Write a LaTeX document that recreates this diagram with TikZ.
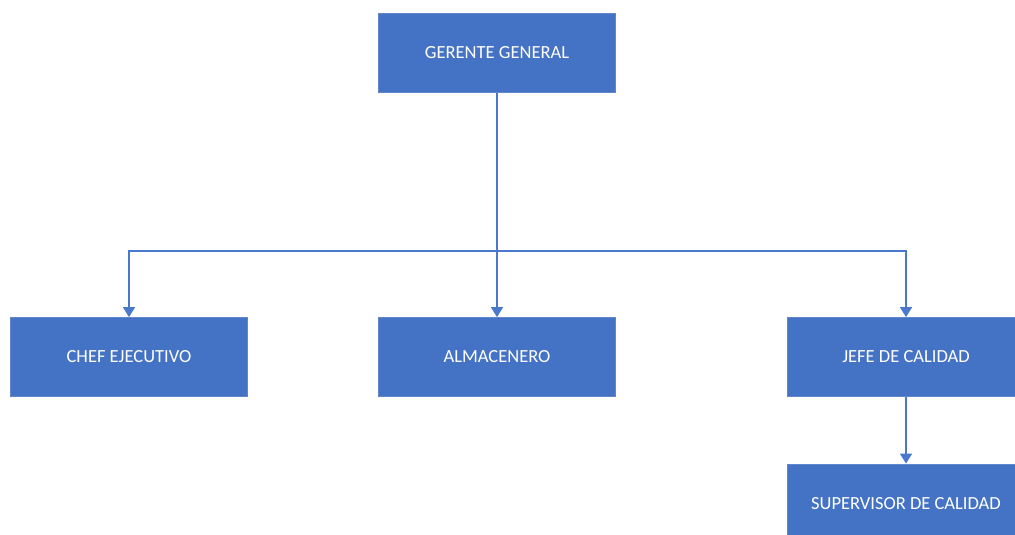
\documentclass[tikz,border=0pt]{standalone}
\usepackage{fontspec}
\setmainfont{Carlito}
\usetikzlibrary{arrows.meta}
\definecolor{boxblue}{HTML}{4472C4}
\definecolor{lineblue}{HTML}{4A78CC}

\begin{document}
\begin{tikzpicture}[x=1pt, y=-1pt,
		puesto/.style={rectangle, fill=boxblue, draw=boxblue!85!white, line width=0.8pt,
			minimum width=237pt, minimum height=79pt, inner sep=0pt,
			text=white, font=\fontsize{18.5}{22}\selectfont},
		flecha/.style={draw=lineblue, line width=1.6pt, -{Triangle[width=12pt,length=10pt]}}]
			% Define page area
			\clip (0,0) rectangle (1015,535);
			\fill[white] (0,0) rectangle (1015,535);

			% Boxes
			\node[puesto] (gerente) at (497,53) {GERENTE GENERAL};
			\node[puesto] (chef) at (129,357) {CHEF EJECUTIVO};
			\node[puesto] (almacen) at (497,357) {ALMACENERO};
			\node[puesto] (jefe) at (906,357) {JEFE DE CALIDAD};
			\node[puesto] (supervisor) at (906,503.5) {SUPERVISOR DE CALIDAD};

			% Connectors
			\coordinate (bus) at (497,251);
			\draw[flecha] (gerente.south) -- (almacen.north);
			\draw[flecha] (bus) -| (chef.north);
			\draw[flecha] (bus) -| (jefe.north);
			\draw[flecha] (jefe.south) -- (supervisor.north);

		\end{tikzpicture}
\end{document}
